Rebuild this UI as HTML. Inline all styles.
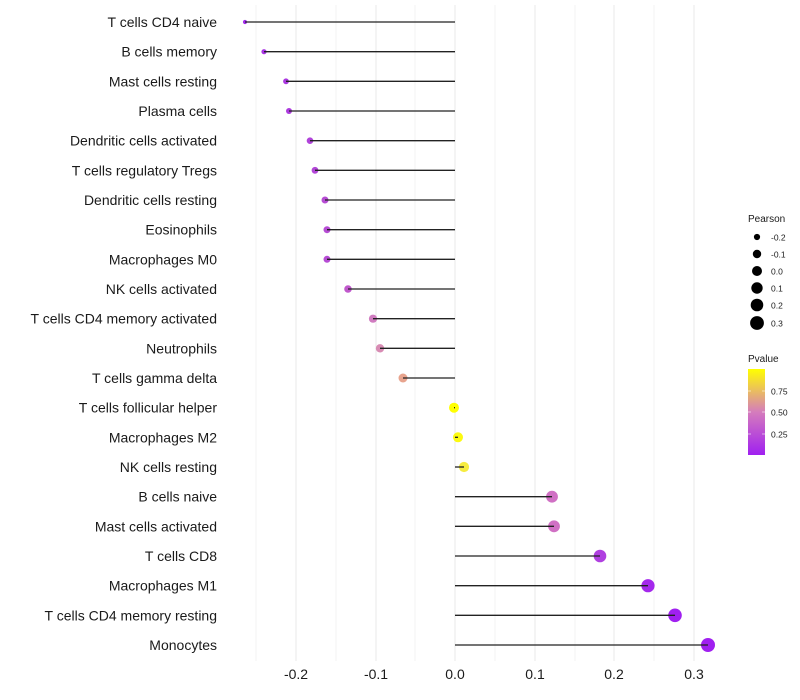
<!DOCTYPE html>
<html><head><meta charset="utf-8"><style>
body{margin:0;background:#fff;}
svg{display:block;font-family:"Liberation Sans",Arial,sans-serif;}
</style></head><body>
<svg width="800" height="700" viewBox="0 0 800 700" xmlns="http://www.w3.org/2000/svg">
<defs>
<linearGradient id="pg" x1="0" y1="1" x2="0" y2="0">
<stop offset="0" stop-color="#a020f0"/>
<stop offset="0.5" stop-color="#d57cbc"/>
<stop offset="1" stop-color="#ffff00"/>
</linearGradient>
</defs>
<g stroke="#ebebeb" stroke-width="0.6">
<line x1="256" y1="5" x2="256" y2="661"/><line x1="336" y1="5" x2="336" y2="661"/><line x1="415" y1="5" x2="415" y2="661"/><line x1="495" y1="5" x2="495" y2="661"/><line x1="575" y1="5" x2="575" y2="661"/><line x1="654" y1="5" x2="654" y2="661"/>
</g>
<g stroke="#ebebeb" stroke-width="1.1">
<line x1="296" y1="5" x2="296" y2="661"/><line x1="376" y1="5" x2="376" y2="661"/><line x1="455" y1="5" x2="455" y2="661"/><line x1="535" y1="5" x2="535" y2="661"/><line x1="614" y1="5" x2="614" y2="661"/><line x1="694" y1="5" x2="694" y2="661"/>
</g>
<g>
<circle cx="245" cy="22" r="2.1" fill="#a22cec"/><circle cx="264" cy="51.7" r="2.6" fill="#a834e4"/><circle cx="286" cy="81.3" r="2.9" fill="#aa38e0"/><circle cx="289" cy="111" r="3" fill="#ac3ade"/><circle cx="310" cy="140.7" r="3.3" fill="#b043da"/><circle cx="315" cy="170.3" r="3.4" fill="#b246d8"/><circle cx="325" cy="200" r="3.5" fill="#b64cd4"/><circle cx="327" cy="229.7" r="3.5" fill="#b64cd4"/><circle cx="327" cy="259.3" r="3.5" fill="#b64cd4"/><circle cx="348" cy="289" r="3.8" fill="#c058cc"/><circle cx="373" cy="318.7" r="4.1" fill="#d07cc0"/><circle cx="380" cy="348.3" r="4.2" fill="#d88cb4"/><circle cx="403" cy="378" r="4.5" fill="#e8a48e"/><circle cx="454" cy="407.7" r="5" fill="#ffff00"/><circle cx="458" cy="437.3" r="5" fill="#fcfa10"/><circle cx="464" cy="467" r="5.1" fill="#f6ec40"/><circle cx="552" cy="496.7" r="5.9" fill="#d070c4"/><circle cx="554" cy="526.3" r="5.9" fill="#d070c4"/><circle cx="600" cy="556" r="6.3" fill="#b040e0"/><circle cx="648" cy="585.7" r="6.6" fill="#a428ec"/><circle cx="675" cy="615.3" r="6.8" fill="#a020f0"/><circle cx="708" cy="645" r="7" fill="#a020f0"/>
</g>
<g stroke="#222" stroke-width="1.3">
<line x1="455" y1="22" x2="245" y2="22"/><line x1="455" y1="51.7" x2="264" y2="51.7"/><line x1="455" y1="81.3" x2="286" y2="81.3"/><line x1="455" y1="111" x2="289" y2="111"/><line x1="455" y1="140.7" x2="310" y2="140.7"/><line x1="455" y1="170.3" x2="315" y2="170.3"/><line x1="455" y1="200" x2="325" y2="200"/><line x1="455" y1="229.7" x2="327" y2="229.7"/><line x1="455" y1="259.3" x2="327" y2="259.3"/><line x1="455" y1="289" x2="348" y2="289"/><line x1="455" y1="318.7" x2="373" y2="318.7"/><line x1="455" y1="348.3" x2="380" y2="348.3"/><line x1="455" y1="378" x2="403" y2="378"/><line x1="455" y1="407.7" x2="454" y2="407.7"/><line x1="455" y1="437.3" x2="458" y2="437.3"/><line x1="455" y1="467" x2="464" y2="467"/><line x1="455" y1="496.7" x2="552" y2="496.7"/><line x1="455" y1="526.3" x2="554" y2="526.3"/><line x1="455" y1="556" x2="600" y2="556"/><line x1="455" y1="585.7" x2="648" y2="585.7"/><line x1="455" y1="615.3" x2="675" y2="615.3"/><line x1="455" y1="645" x2="708" y2="645"/>
</g>
<g font-size="14" fill="#1a1a1a" text-anchor="end">
<text x="217" y="27">T cells CD4 naive</text><text x="217" y="56.7">B cells memory</text><text x="217" y="86.3">Mast cells resting</text><text x="217" y="116">Plasma cells</text><text x="217" y="145.7">Dendritic cells activated</text><text x="217" y="175.3">T cells regulatory  Tregs </text><text x="217" y="205">Dendritic cells resting</text><text x="217" y="234.7">Eosinophils</text><text x="217" y="264.3">Macrophages M0</text><text x="217" y="294">NK cells activated</text><text x="217" y="323.7">T cells CD4 memory activated</text><text x="217" y="353.3">Neutrophils</text><text x="217" y="383">T cells gamma delta</text><text x="217" y="412.7">T cells follicular helper</text><text x="217" y="442.3">Macrophages M2</text><text x="217" y="472">NK cells resting</text><text x="217" y="501.7">B cells naive</text><text x="217" y="531.3">Mast cells activated</text><text x="217" y="561">T cells CD8</text><text x="217" y="590.7">Macrophages M1</text><text x="217" y="620.3">T cells CD4 memory resting</text><text x="217" y="650">Monocytes</text>
</g>
<g font-size="14" fill="#1a1a1a" text-anchor="middle">
<text x="296" y="679">-0.2</text><text x="376" y="679">-0.1</text><text x="455" y="679">0.0</text><text x="535" y="679">0.1</text><text x="614" y="679">0.2</text><text x="694" y="679">0.3</text>
</g>
<g font-size="10" fill="#1a1a1a">
<text x="748" y="222">Pearson</text>
<circle cx="757" cy="237" r="3.1" fill="#000"/><text x="771" y="240.5" font-size="8.5">-0.2</text>
<circle cx="757" cy="254" r="4.2" fill="#000"/><text x="771" y="257.5" font-size="8.5">-0.1</text>
<circle cx="757" cy="271" r="5" fill="#000"/><text x="771" y="274.5" font-size="8.5">0.0</text>
<circle cx="757" cy="288" r="5.7" fill="#000"/><text x="771" y="291.5" font-size="8.5">0.1</text>
<circle cx="757" cy="305" r="6.3" fill="#000"/><text x="771" y="308.5" font-size="8.5">0.2</text>
<circle cx="757" cy="323" r="6.9" fill="#000"/><text x="771" y="326.5" font-size="8.5">0.3</text>
<text x="748" y="362">Pvalue</text>
<rect x="748" y="369" width="17" height="86" fill="url(#pg)"/>
<g stroke="#fff" stroke-width="0.8" opacity="0.7"><line x1="748" y1="391" x2="751" y2="391"/><line x1="762" y1="391" x2="765" y2="391"/><line x1="748" y1="412" x2="751" y2="412"/><line x1="762" y1="412" x2="765" y2="412"/><line x1="748" y1="434" x2="751" y2="434"/><line x1="762" y1="434" x2="765" y2="434"/></g>
<text x="771" y="394.5" font-size="8.5">0.75</text><text x="771" y="415.5" font-size="8.5">0.50</text><text x="771" y="437.5" font-size="8.5">0.25</text>
</g>
</svg>
</body></html>
